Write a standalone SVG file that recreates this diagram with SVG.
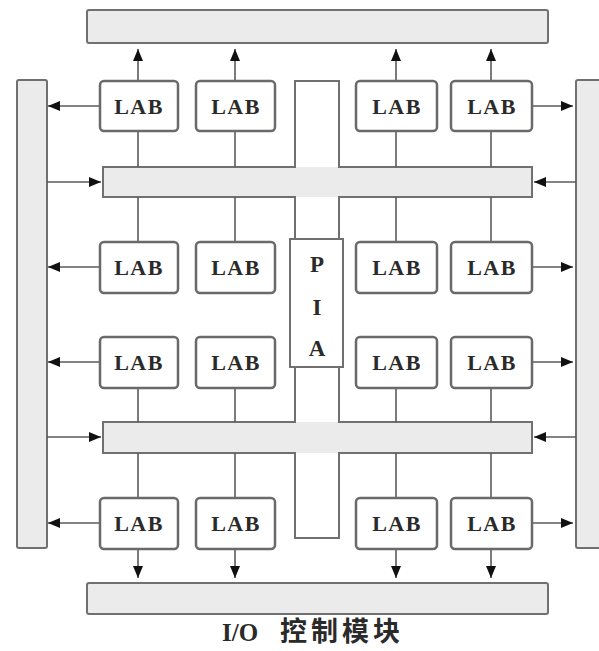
<svg xmlns="http://www.w3.org/2000/svg" width="599" height="651" viewBox="0 0 599 651">
<style>
.bar{fill:#ebebeb;stroke:#707070;stroke-width:2}
.lab rect{fill:#ffffff;stroke:#6a6a6a;stroke-width:2.5}
.lab text,.lbl{font-family:"Liberation Serif","Times New Roman",serif;font-weight:bold;fill:#2a2a2a}
.lab text{font-size:22px;text-anchor:middle;letter-spacing:1.5px}
.con line{stroke:#5a5a5a;stroke-width:1.6}
.arr{marker-end:url(#ah)}
</style>
<defs>
<marker id="ah" markerUnits="userSpaceOnUse" markerWidth="12" markerHeight="10" refX="12" refY="5" orient="auto">
<path d="M0,0 L12,5 L0,10 z" fill="#111"/>
</marker>
</defs>
<rect width="599" height="651" fill="#ffffff"/>

<g id="io-top"><rect class="bar" x="87" y="10" width="461" height="33" rx="2"/></g>
<g id="io-bottom"><rect class="bar" x="87" y="583" width="461" height="31" rx="2"/></g>
<g id="io-left"><rect class="bar" x="17" y="80" width="30" height="468" rx="2"/></g>
<g id="io-right"><rect class="bar" x="576" y="80" width="34" height="468" rx="2"/></g>

<g id="pia-channel">
<rect x="103" y="167" width="429" height="30" fill="#ebebeb"/>
<rect x="103" y="422" width="429" height="31" fill="#ebebeb"/>
<rect x="295" y="81" width="44" height="86" fill="#ffffff"/>
<rect x="295" y="197" width="44" height="225" fill="#ffffff"/>
<rect x="295" y="453" width="44" height="85" fill="#ffffff"/>
<path d="M295,81 H339 V167 H532 V197 H339 V422 H532 V453 H339 V538 H295 V453 H103 V422 H295 V197 H103 V167 H295 Z" fill="none" stroke="#707070" stroke-width="2"/>
</g>

<g class="con" id="connectors">
<line x1="138" y1="131" x2="138" y2="167"/>
<line x1="235" y1="131" x2="235" y2="167"/>
<line x1="396" y1="131" x2="396" y2="167"/>
<line x1="491" y1="131" x2="491" y2="167"/>
<line x1="138" y1="197" x2="138" y2="242"/>
<line x1="235" y1="197" x2="235" y2="242"/>
<line x1="396" y1="197" x2="396" y2="242"/>
<line x1="491" y1="197" x2="491" y2="242"/>
<line x1="138" y1="388" x2="138" y2="422"/>
<line x1="235" y1="388" x2="235" y2="422"/>
<line x1="396" y1="388" x2="396" y2="422"/>
<line x1="491" y1="388" x2="491" y2="422"/>
<line x1="138" y1="453" x2="138" y2="498"/>
<line x1="235" y1="453" x2="235" y2="498"/>
<line x1="396" y1="453" x2="396" y2="498"/>
<line x1="491" y1="453" x2="491" y2="498"/>
<line class="arr" x1="138" y1="81" x2="138" y2="49"/>
<line class="arr" x1="235" y1="81" x2="235" y2="49"/>
<line class="arr" x1="396" y1="81" x2="396" y2="49"/>
<line class="arr" x1="491" y1="81" x2="491" y2="49"/>
<line class="arr" x1="138" y1="549" x2="138" y2="578"/>
<line class="arr" x1="235" y1="549" x2="235" y2="578"/>
<line class="arr" x1="396" y1="549" x2="396" y2="578"/>
<line class="arr" x1="491" y1="549" x2="491" y2="578"/>
<line class="arr" x1="100" y1="106" x2="48" y2="106"/>
<line class="arr" x1="100" y1="267" x2="48" y2="267"/>
<line class="arr" x1="100" y1="362" x2="48" y2="362"/>
<line class="arr" x1="100" y1="523" x2="48" y2="523"/>
<line class="arr" x1="532" y1="106" x2="573" y2="106"/>
<line class="arr" x1="532" y1="267" x2="573" y2="267"/>
<line class="arr" x1="532" y1="362" x2="573" y2="362"/>
<line class="arr" x1="532" y1="523" x2="573" y2="523"/>
<line class="arr" x1="47" y1="182" x2="101" y2="182"/>
<line class="arr" x1="47" y1="437" x2="101" y2="437"/>
<line class="arr" x1="576" y1="182" x2="534" y2="182"/>
<line class="arr" x1="576" y1="437" x2="534" y2="437"/>
</g>

<g id="pia"><rect x="290" y="239" width="53" height="128" fill="#ffffff" stroke="#707070" stroke-width="2"/>
<text class="lbl" x="317" y="272" font-size="23" text-anchor="middle">P</text>
<text class="lbl" x="317" y="315" font-size="23" text-anchor="middle">I</text>
<text class="lbl" x="317" y="356" font-size="23" text-anchor="middle">A</text>
</g>

<g id="lab-1-1" class="lab"><rect x="100" y="81" width="78" height="50" rx="4"/><text x="139" y="114">LAB</text></g>
<g id="lab-1-2" class="lab"><rect x="196" y="81" width="79" height="50" rx="4"/><text x="236" y="114">LAB</text></g>
<g id="lab-1-3" class="lab"><rect x="356" y="81" width="81" height="50" rx="4"/><text x="397" y="114">LAB</text></g>
<g id="lab-1-4" class="lab"><rect x="451" y="81" width="81" height="50" rx="4"/><text x="492" y="114">LAB</text></g>

<g id="lab-2-1" class="lab"><rect x="100" y="242" width="78" height="51" rx="4"/><text x="139" y="275">LAB</text></g>
<g id="lab-2-2" class="lab"><rect x="196" y="242" width="79" height="51" rx="4"/><text x="236" y="275">LAB</text></g>
<g id="lab-2-3" class="lab"><rect x="356" y="242" width="81" height="51" rx="4"/><text x="397" y="275">LAB</text></g>
<g id="lab-2-4" class="lab"><rect x="451" y="242" width="81" height="51" rx="4"/><text x="492" y="275">LAB</text></g>

<g id="lab-3-1" class="lab"><rect x="100" y="337" width="78" height="51" rx="4"/><text x="139" y="370">LAB</text></g>
<g id="lab-3-2" class="lab"><rect x="196" y="337" width="79" height="51" rx="4"/><text x="236" y="370">LAB</text></g>
<g id="lab-3-3" class="lab"><rect x="356" y="337" width="81" height="51" rx="4"/><text x="397" y="370">LAB</text></g>
<g id="lab-3-4" class="lab"><rect x="451" y="337" width="81" height="51" rx="4"/><text x="492" y="370">LAB</text></g>

<g id="lab-4-1" class="lab"><rect x="100" y="498" width="78" height="51" rx="4"/><text x="139" y="531">LAB</text></g>
<g id="lab-4-2" class="lab"><rect x="196" y="498" width="79" height="51" rx="4"/><text x="236" y="531">LAB</text></g>
<g id="lab-4-3" class="lab"><rect x="356" y="498" width="81" height="51" rx="4"/><text x="397" y="531">LAB</text></g>
<g id="lab-4-4" class="lab"><rect x="451" y="498" width="81" height="51" rx="4"/><text x="492" y="531">LAB</text></g>

<g id="caption"><text class="lbl" x="222" y="641" font-size="25" font-family="'Liberation Serif','Noto Sans CJK SC',serif">I/O <tspan x="280" font-size="27" letter-spacing="4" font-family="'Noto Sans CJK SC',sans-serif">控制模块</tspan></text></g>
</svg>
